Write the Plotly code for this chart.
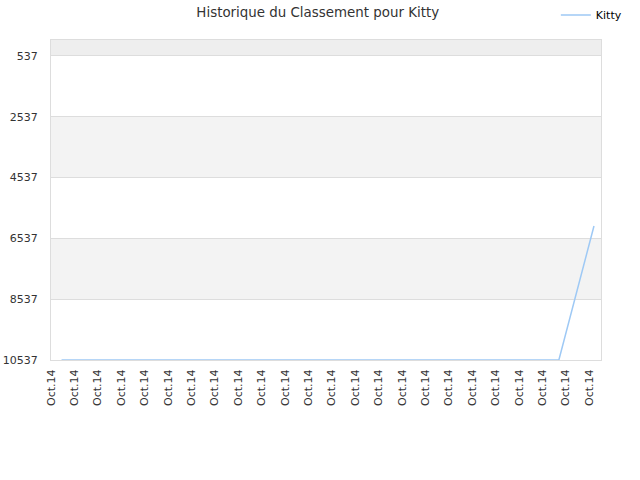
import plotly.graph_objects as go

# rank history (lower rank number = better, axis reversed)
x_pos = [0.45, 21.7, 23.2]
ranks = [10537, 10537, 6130]
tick_pos = list(range(24))
tick_text = ["Oct.14"] * 24
y_ticks = [537, 2537, 4537, 6537, 8537, 10537]

fig = go.Figure()
fig.add_trace(go.Scatter(x=x_pos, y=ranks, mode="lines", name="Kitty",
                         line=dict(color="#9ec9f5", width=1.5)))

# alternating background bands
bands = [(11, 537, "#eeeeee"), (2537, 4537, "#f3f3f3"), (6537, 8537, "#f3f3f3")]
for y0, y1, c in bands:
    fig.add_shape(type="rect", xref="paper", yref="y", x0=0, x1=1, y0=y0, y1=y1,
                  fillcolor=c, line_width=0, layer="below")

fig.update_layout(
    width=640, height=480,
    margin=dict(l=51, r=39, t=40, b=120, autoexpand=False),
    paper_bgcolor="white", plot_bgcolor="white",
    font=dict(family="DejaVu Sans", size=11, color="#333333"),
    title=dict(text="Historique du Classement pour Kitty", xref="container",
               x=0.4965, xanchor="center", yref="container", y=0.975,
               yanchor="middle", font=dict(size=13.4, color="#333333")),
    showlegend=True,
    legend=dict(x=1.047, xanchor="right", y=1.078, yanchor="middle",
                font=dict(size=11, color="#000000"), bgcolor="rgba(0,0,0,0)"),
)
fig.update_xaxes(range=[0, 23.5], tickvals=tick_pos, ticktext=tick_text,
                 tickangle=-90, showgrid=False, zeroline=False,
                 showline=True, linecolor="#dddddd", mirror=True,
                 ticklabelstandoff=4, automargin=False)
fig.update_yaxes(range=[10537, 11], tickvals=y_ticks,
                 ticktext=[str(v) for v in y_ticks], showgrid=True,
                 gridcolor="#dddddd", zeroline=False, showline=True,
                 linecolor="#dddddd", mirror=True, ticklabelstandoff=10,
                 automargin=False)

# drop the default page margin so the chart sits at the window's corner
fig.write_html("out.html", config={"displayModeBar": False},
               post_script="document.body.style.margin='0';")
